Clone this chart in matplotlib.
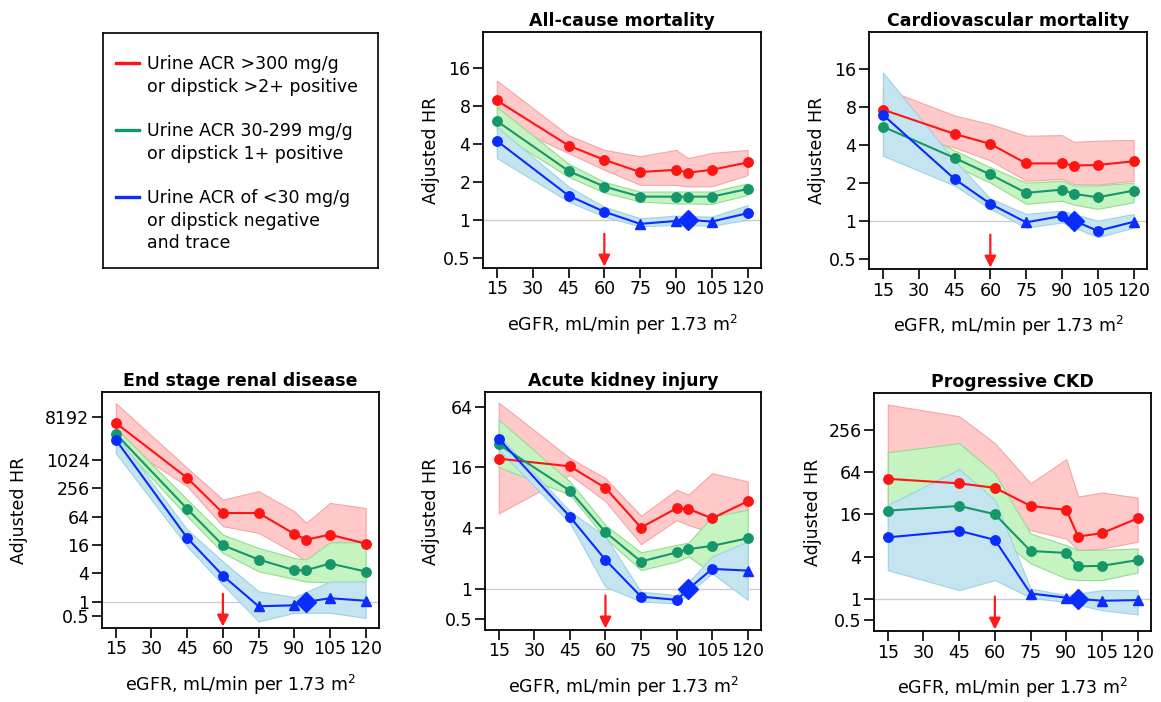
import numpy as np
import matplotlib
matplotlib.use("Agg")
import matplotlib.pyplot as plt
from matplotlib.lines import Line2D
from matplotlib.ticker import FixedLocator, FuncFormatter, NullLocator

# eGFR categories (mL/min per 1.73 m2); 95 is the reference category
egfr = [15, 45, 60, 75, 90, 95, 105, 120]
egfr_ticks = [15, 30, 45, 60, 75, 90, 105, 120]
nan = np.nan

# blue marker kind: 1 = significant (circle), 0 = not significant (triangle), 2 = reference (diamond)

# --- All-cause mortality
acm_red = [8.9, 3.9, 3.0, 2.4, 2.5, 2.37, 2.5, 2.86]
acm_red_lo = [6.2, 3.4, 2.5, 1.9, 1.9, 1.85, 1.85, 2.27]
acm_red_hi = [12.8, 4.7, 3.6, 3.2, 3.6, 3.1, 3.4, 3.6]
acm_green = [6.1, 2.45, 1.84, 1.53, 1.53, 1.53, 1.53, 1.76]
acm_green_lo = [5.0, 2.2, 1.65, 1.4, 1.35, 1.35, 1.34, 1.58]
acm_green_hi = [7.9, 2.8, 2.0, 1.68, 1.68, 1.68, 1.68, 1.95]
acm_blue = [4.25, 1.56, 1.16, 0.93, 0.98, 1.0, 0.97, 1.13]
acm_blue_lo = [3.1, 1.4, 1.06, 0.89, 0.91, nan, 0.9, 1.0]
acm_blue_hi = [5.5, 1.84, 1.27, 1.03, 1.08, nan, 1.06, 1.31]
acm_blue_kind = [1, 1, 1, 0, 0, 2, 0, 1]

# --- Cardiovascular mortality
cvm_red = [7.57, 4.86, 4.05, 2.84, 2.84, 2.73, 2.76, 2.95]
cvm_red_lo = [5.2, 3.8, 3.0, 2.07, 2.14, 1.95, 1.93, 2.07]
cvm_red_hi = [11.2, 6.8, 5.8, 4.7, 4.75, 4.2, 4.3, 4.35]
cvm_green = [5.55, 3.14, 2.32, 1.66, 1.76, 1.63, 1.53, 1.73]
cvm_green_lo = [4.57, 2.7, 2.0, 1.36, 1.44, 1.34, 1.24, 1.4]
cvm_green_hi = [7.0, 3.6, 2.65, 2.0, 2.07, 1.9, 1.9, 2.0]
cvm_blue = [6.9, 2.14, 1.36, 0.97, 1.09, 1.0, 0.83, 0.98]
cvm_blue_lo = [3.27, 1.9, 1.24, 0.88, 0.97, nan, 0.74, 0.88]
cvm_blue_hi = [14.9, 3.0, 1.5, 1.13, 1.2, nan, 1.0, 1.13]
cvm_blue_kind = [1, 1, 1, 0, 1, 2, 1, 0]

# --- End stage renal disease
esrd_red = [6100, 420, 76, 76, 27.5, 20.8, 26.5, 17.1]
esrd_red_lo = [2700, 280, 40, 29, 10.9, 7.2, 16.3, 15]
esrd_red_hi = [16000, 680, 146, 220, 83, 47, 124, 97]
esrd_green = [3600, 93, 15.8, 7.9, 4.7, 4.7, 6.5, 4.4]
esrd_green_lo = [2700, 65, 10.9, 4.45, 3.07, 2.7, 2.6, 2.7]
esrd_green_hi = [4800, 146, 26.5, 13.9, 8.5, 7.9, 18.3, 18.3]
esrd_blue = [2700, 22.6, 3.6, 0.81, 0.85, 1.0, 1.2, 1.06]
esrd_blue_lo = [1400, 15, 2.3, 0.39, 0.59, nan, 0.59, 0.46]
esrd_blue_hi = [3500, 34, 7.2, 1.68, 1.27, nan, 2.7, 2.7]
esrd_blue_kind = [1, 1, 1, 0, 0, 2, 0, 0]

# --- Acute kidney injury
aki_red = [19.5, 16.4, 10, 4.06, 6.3, 6.2, 5.0, 7.4]
aki_red_lo = [5.6, 13.5, 7.4, 2.78, 4.8, 4.3, 3.6, 5.9]
aki_red_hi = [70, 19.8, 12.5, 5.3, 9.6, 8.6, 14, 11.6]
aki_green = [27, 9.4, 3.65, 1.87, 2.3, 2.48, 2.67, 3.18]
aki_green_lo = [16.1, 8.6, 3.18, 1.54, 1.87, 2.1, 1.43, 1.66]
aki_green_hi = [47.5, 11.6, 4.3, 2.3, 2.73, 2.88, 5.2, 6.1]
aki_blue = [30.8, 5.2, 1.94, 0.84, 0.78, 1.0, 1.58, 1.52]
aki_blue_lo = [24, 4.5, 1.05, 0.75, 0.72, nan, 1.43, 0.78]
aki_blue_hi = [33, 5.9, 3.3, 0.94, 0.87, nan, 2.1, 2.95]
aki_blue_kind = [1, 1, 1, 1, 1, 2, 1, 0]

# --- Progressive CKD
pckd_red = [51, 44, 38, 21, 18.4, 7.7, 8.6, 14]
pckd_red_lo = [20, 22, 20, 9.5, 7.2, 4.95, 5.2, 6.5]
pckd_red_hi = [580, 396, 164, 44, 97, 28.5, 32.5, 27.6]
pckd_green = [18, 21, 16, 4.8, 4.5, 2.9, 2.95, 3.56]
pckd_green_lo = [8, 10, 8, 3.2, 1.95, 1.85, 1.85, 2.37]
pckd_green_hi = [122, 164, 61, 8.5, 5.8, 4.95, 5.0, 5.2]
pckd_blue = [7.5, 9.3, 6.9, 1.19, 1.04, 1.0, 0.94, 0.96]
pckd_blue_lo = [2.56, 1.33, 1.85, 1.04, 0.9, nan, 0.69, 0.6]
pckd_blue_hi = [21.7, 70, 25.6, 1.4, 1.13, nan, 1.33, 1.33]
pckd_blue_kind = [1, 1, 1, 0, 0, 2, 0, 0]

legend_labels = [
    "Urine ACR >300 mg/g", "or dipstick >2+ positive", " ",
    "Urine ACR 30-299 mg/g", "or dipstick 1+ positive", " ",
    "Urine ACR of <30 mg/g", "or dipstick negative", "and trace",
]

RED, RED_BAND, RED_EDGE = "#ff1414", "#ffc9c9", "#f6a5a5"
GREEN, GREEN_BAND, GREEN_EDGE = "#16976a", "#c6f4c0", "#93dc93"
BLUE, BLUE_BAND, BLUE_EDGE = "#0a2cff", "#c4e4ef", "#9ed2e8"

FS = 12.5
plt.rcParams["font.family"] = ["DejaVu Sans"]
plt.rcParams["font.size"] = FS


def band(ax, lo, hi, face, edge):
    x = np.array(egfr, dtype=float)
    lo = np.array(lo, dtype=float)
    hi = np.array(hi, dtype=float)
    ok = ~np.isnan(lo)
    ax.fill_between(x[ok], lo[ok], hi[ok], facecolor=face, edgecolor=edge,
                    linewidth=0.8, zorder=1)


def draw_panel(ax, title, red, red_lo, red_hi, green, green_lo, green_hi,
               blue, blue_lo, blue_hi, blue_kind, yticks, ylim, ylab_x):
    ax.set_yscale("log", base=2)
    ax.axhline(1, color="#cccccc", linewidth=1.0, zorder=0.5)

    band(ax, red_lo, red_hi, RED_BAND, RED_EDGE)
    band(ax, green_lo, green_hi, GREEN_BAND, GREEN_EDGE)
    band(ax, blue_lo, blue_hi, BLUE_BAND, BLUE_EDGE)

    ax.plot(egfr, red, color=RED, lw=1.5, marker="o", ms=6.8, zorder=3)
    ax.plot(egfr, green, color=GREEN, lw=1.5, marker="o", ms=6.8, zorder=3)
    ax.plot(egfr, blue, color=BLUE, lw=1.5, zorder=3)
    kinds = np.array(blue_kind)
    xb = np.array(egfr)
    yb = np.array(blue)
    for k, mk, ms in [(1, "o", 6.8), (0, "^", 7.8), (2, "D", 10.5)]:
        sel = kinds == k
        ax.plot(xb[sel], yb[sel], linestyle="none", marker=mk, ms=ms,
                color=BLUE, zorder=4)

    ax.annotate("", xy=(60, 0.006), xycoords=("data", "axes fraction"),
                xytext=(60, 0.145), textcoords=("data", "axes fraction"),
                arrowprops=dict(arrowstyle="-|>", color="#ff1a1a", lw=1.6,
                                mutation_scale=17, shrinkA=0, shrinkB=0),
                zorder=5)

    ax.set_xlim(9.2, 125.6)
    ax.set_ylim(*ylim)
    ax.xaxis.set_major_locator(FixedLocator(egfr_ticks))
    ax.yaxis.set_major_locator(FixedLocator(yticks))
    ax.yaxis.set_minor_locator(NullLocator())
    ax.yaxis.set_major_formatter(FuncFormatter(lambda v, p: f"{v:g}"))
    ax.tick_params(axis="both", direction="out", length=7, width=1.2,
                   labelsize=FS, pad=2)
    for s in ax.spines.values():
        s.set_linewidth(1.3)
    ax.set_title(title, fontsize=FS, fontweight="bold", pad=4)
    ax.set_ylabel("Adjusted HR", fontsize=FS)
    ax.yaxis.set_label_coords(ylab_x, 0.5)
    ax.set_xlabel(r"eGFR, mL/min per 1.73 m$^2$", fontsize=FS)
    ax.xaxis.set_label_coords(0.5, -0.19)


fig = plt.figure(figsize=(11.61, 7.02), dpi=100)
W, H = 1161, 702


def box(l, t, r, b):
    return [l / W, 1 - b / H, (r - l) / W, (b - t) / H]


ax1 = fig.add_axes(box(483, 32, 761, 268))
ax2 = fig.add_axes(box(869, 32, 1147, 269))
ax3 = fig.add_axes(box(102, 392, 379, 628))
ax4 = fig.add_axes(box(485, 392, 761, 630))
ax5 = fig.add_axes(box(874, 393, 1151, 631))

small = [0.5, 1, 2, 4, 8, 16]
draw_panel(ax1, "All-cause mortality", acm_red, acm_red_lo, acm_red_hi,
           acm_green, acm_green_lo, acm_green_hi,
           acm_blue, acm_blue_lo, acm_blue_hi, acm_blue_kind,
           small, (2 ** -1.27, 2 ** 4.96), -0.155)
draw_panel(ax2, "Cardiovascular mortality", cvm_red, cvm_red_lo, cvm_red_hi,
           cvm_green, cvm_green_lo, cvm_green_hi,
           cvm_blue, cvm_blue_lo, cvm_blue_hi, cvm_blue_kind,
           small, (2 ** -1.27, 2 ** 4.96), -0.155)
draw_panel(ax3, "End stage renal disease", esrd_red, esrd_red_lo, esrd_red_hi,
           esrd_green, esrd_green_lo, esrd_green_hi,
           esrd_blue, esrd_blue_lo, esrd_blue_hi, esrd_blue_kind,
           [0.5, 1, 4, 16, 64, 256, 1024, 8192], (2 ** -1.83, 2 ** 14.75), -0.267)
draw_panel(ax4, "Acute kidney injury", aki_red, aki_red_lo, aki_red_hi,
           aki_green, aki_green_lo, aki_green_hi,
           aki_blue, aki_blue_lo, aki_blue_hi, aki_blue_kind,
           [0.5, 1, 4, 16, 64], (2 ** -1.35, 2 ** 6.48), -0.163)
draw_panel(ax5, "Progressive CKD", pckd_red, pckd_red_lo, pckd_red_hi,
           pckd_green, pckd_green_lo, pckd_green_hi,
           pckd_blue, pckd_blue_lo, pckd_blue_hi, pckd_blue_kind,
           [0.5, 1, 4, 16, 64, 256], (2 ** -1.52, 2 ** 9.73), -0.188)

# legend panel
lax = fig.add_axes(box(103, 33, 378, 268))
lax.set_xticks([])
lax.set_yticks([])
for s in lax.spines.values():
    s.set_linewidth(1.2)
blank = Line2D([], [], color="none")
handles = [Line2D([], [], color=RED, lw=2.4), blank, blank,
           Line2D([], [], color=GREEN, lw=2.4), blank, blank,
           Line2D([], [], color=BLUE, lw=2.4), blank, blank]
lax.legend(handles, legend_labels, loc="upper left", bbox_to_anchor=(0.046, 0.905),
           frameon=False, fontsize=FS, handlelength=1.32, handletextpad=0.46,
           labelspacing=0.25, borderpad=0, borderaxespad=0)

fig.savefig("out.png", dpi=100)
